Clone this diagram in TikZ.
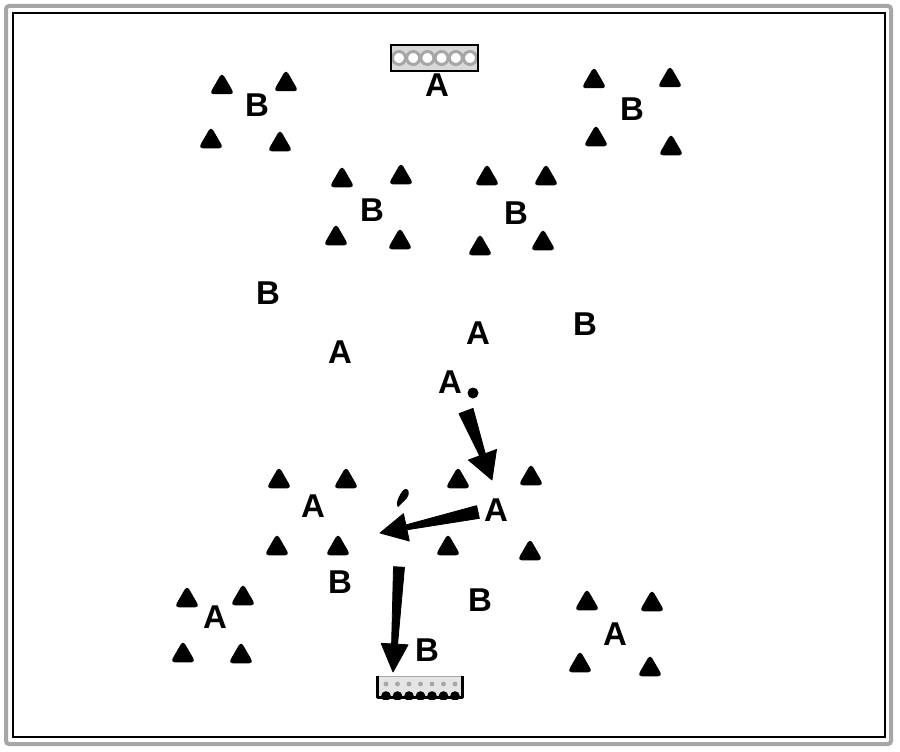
\documentclass[tikz,border=0pt]{standalone}
\usepackage{fontspec}
\setmainfont{Liberation Sans}
\usetikzlibrary{shapes.geometric,calc}
\tikzset{
  tri/.style={regular polygon, regular polygon sides=3, fill=black, draw=black,
    line width=1pt, rounded corners=3.5pt, minimum size=27pt, inner sep=0pt},
  lett/.style={inner sep=0pt, font=\fontsize{33}{33}\selectfont\bfseries},
  fatarrow/.style={fill=black, draw=black, line width=0.8pt, line join=round},
}
\newcommand{\tr}[3]{\node[tri] (#1) at (#2,#3+3) {};}
\newcommand{\fatarr}[7]{% name, tail, tip, w1, w2, h, L
  \coordinate (#1N) at ($(#3)!#7pt!(#2)$);
  \fill[fatarrow] ($(#2)!#4pt!90:(#3)$) -- ($(#1N)!#5pt!-90:(#2)$) -- ($(#1N)!#6pt!-90:(#2)$)
    -- (#3) -- ($(#1N)!#6pt!90:(#2)$) -- ($(#1N)!#5pt!90:(#2)$) -- ($(#2)!#4pt!-90:(#3)$) -- cycle;}
\begin{document}
\begin{tikzpicture}[x=1pt,y=-1pt]
\useasboundingbox (0,0) rectangle (900,752);
\fill[white] (0,0) rectangle (900,752);
% frames
\draw[gray!70, line width=4pt, rounded corners=3pt] (6,6) rectangle (891,744);
\draw[black, line width=1.2pt] (13,13) rectangle (885,737);

% top hatched box
\begin{scope}
\clip (391,45) rectangle (478,71);
\fill[gray!30] (391,45) rectangle (478,71);
\foreach \i in {0,...,5} {
  \draw[gray!70, line width=3pt, fill=white] (399+14.2*\i,58) circle (6.5);
}
\end{scope}
\draw[black, line width=1.2pt] (391,45) rectangle (478,71);

% bottom hatched box
\fill[gray!20] (377,676) rectangle (462,697);
\foreach \i in {0,...,6} {
  \fill[gray!70] (386+11.5*\i,684) circle (2.4);
  \fill[black] (386+11.5*\i,696) circle (4.8);
}
\draw[gray!70, line width=1pt] (377,676) -- (462,676);
\draw[black, line width=3pt, line join=round] (377,676) -- (377,697) -- (462,697) -- (462,676);
\fill[white] (372,700) rectangle (467,706);

% triangles
\tr{t1}{222}{84}\tr{t2}{286}{81}\tr{t3}{211}{138}\tr{t4}{280}{141}
\tr{t5}{594}{78}\tr{t6}{670}{77}\tr{t7}{596}{136}\tr{t8}{671}{145}
\tr{t9}{342}{177}\tr{t10}{401}{174}\tr{t11}{336}{235}\tr{t12}{400}{239}
\tr{t13}{487}{175}\tr{t14}{546}{175}\tr{t15}{480}{245}\tr{t16}{543}{240}
\tr{t17}{279}{478}\tr{t18}{346}{478}\tr{t19}{277}{545}\tr{t20}{338}{545}
\tr{t21}{458}{478}\tr{t22}{531}{475}\tr{t23}{448}{545}\tr{t24}{530}{550}
\tr{t25}{187}{597}\tr{t26}{243}{595}\tr{t27}{183}{652}\tr{t28}{241}{653}
\tr{t29}{587}{600}\tr{t30}{652}{601}\tr{t31}{580}{662}\tr{t32}{650}{666}

% letters
\node[lett] (b1) at (257,105) {B};
\node[lett] (b2) at (632,109) {B};
\node[lett] (b3) at (372,210) {B};
\node[lett] (b4) at (516,213) {B};
\node[lett] (b5) at (268,293) {B};
\node[lett] (b6) at (585,324) {B};
\node[lett] (b7) at (340,582) {B};
\node[lett] (b8) at (480,600) {B};
\node[lett] (b9) at (427,650) {B};
\node[lett] (a1) at (437,85) {A};
\node[lett] (a2) at (340,352) {A};
\node[lett] (a3) at (478,333) {A};
\node[lett] (a4) at (450,382) {A};
\node[lett] (a5) at (313,506) {A};
\node[lett] (a6) at (496,510) {A};
\node[lett] (a7) at (215,617) {A};
\node[lett] (a8) at (615,634) {A};

% dot and teardrop
\fill[black] (473,393) circle (5.5);
\fill[black] (398,507) .. controls (394,503) and (402,490) .. (405,489)
  .. controls (409,488) and (410,494) .. (407,498) -- cycle;

% arrows
\coordinate (p1t) at (466,411);
\coordinate (p1h) at (492,480);
\coordinate (p2t) at (478,512);
\coordinate (p2h) at (380,533);
\coordinate (p3t) at (399,567);
\coordinate (p3h) at (393,672);
\fatarr{x1}{p1t}{p1h}{7.5}{3}{15}{27}
\fatarr{x2}{p2t}{p2h}{6.5}{2.5}{14}{27}
\fatarr{x3}{p3t}{p3h}{5.5}{3}{13.5}{28}
\end{tikzpicture}
\end{document}
